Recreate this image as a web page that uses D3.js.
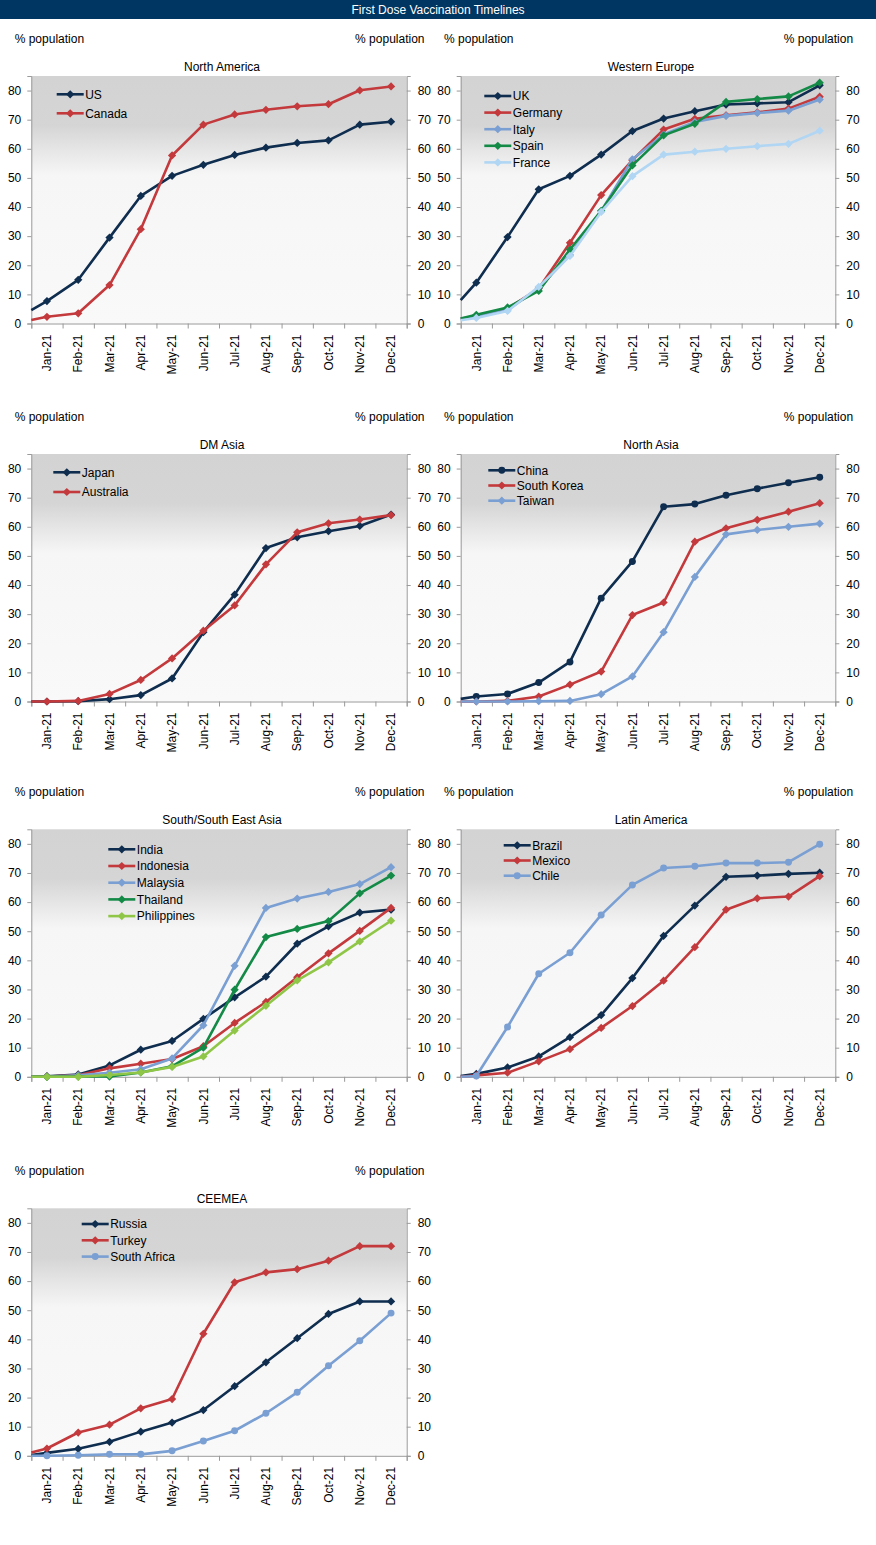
<!DOCTYPE html>
<html><head><meta charset="utf-8">
<script src="https://cdn.jsdelivr.net/npm/d3@7"></script>
<style>
body{margin:0;background:#fff}
text{font-family:"Liberation Sans",Arial,sans-serif;fill:#000}
</style>
</head><body>
<svg id="c" width="876" height="1545"></svg>
<script>
// ---------- DATA ----------
const chartTitle = "First Dose Vaccination Timelines";
const axisLabel = "% population";
const months = ["Jan-21","Feb-21","Mar-21","Apr-21","May-21","Jun-21","Jul-21","Aug-21","Sep-21","Oct-21","Nov-21","Dec-21"];
const yTicks = [0,10,20,30,40,50,60,70,80];
// each series: first value = level at start of the year (left edge), then one value per month
const us        = [4.6, 7.7, 15.0, 29.5, 43.8, 50.7, 54.5, 57.9, 60.4, 62.0, 62.9, 68.3, 69.3];
const canada    = [1.2, 2.3, 3.5, 13.2, 32.4, 57.7, 68.3, 71.8, 73.4, 74.6, 75.3, 80.1, 81.4];
const uk        = [8.0, 14.0, 29.7, 46.1, 50.7, 58.0, 66.1, 70.4, 72.9, 75.2, 75.6, 76.0, 81.8];
const germany   = [1.7, 2.3, 5.1, 12.0, 27.7, 44.1, 56.1, 66.6, 70.3, 71.5, 72.5, 73.8, 77.9];
const italy     = [1.6, 2.3, 4.6, 12.2, 23.5, 38.6, 56.4, 64.9, 69.2, 71.3, 72.3, 73.1, 76.9];
const spain     = [1.7, 3.0, 5.5, 11.2, 25.4, 38.7, 54.3, 64.6, 68.6, 76.1, 77.1, 78.0, 82.7];
const france    = [1.1, 1.9, 4.3, 12.6, 23.2, 38.3, 50.6, 58.0, 59.0, 60.0, 60.9, 61.7, 66.2];
const japan     = [0.0, 0.0, 0.1, 0.8, 2.2, 7.9, 23.8, 36.7, 52.7, 56.4, 58.5, 60.3, 64.2];
const australia = [0.0, 0.0, 0.2, 2.6, 7.4, 14.8, 24.3, 33.0, 47.1, 58.1, 61.2, 62.5, 64.0];
const china     = [0.9, 1.7, 2.6, 6.5, 13.6, 35.5, 48.1, 66.9, 67.8, 70.8, 73.1, 75.1, 77.0];
const southKorea= [0.0, 0.0, 0.2, 1.7, 5.8, 10.3, 29.7, 34.0, 54.9, 59.5, 62.4, 65.2, 68.1];
const taiwan    = [0.0, 0.0, 0.0, 0.1, 0.2, 2.5, 8.6, 23.8, 42.8, 57.4, 58.9, 60.0, 61.1];
const india     = [0.1, 0.2, 0.8, 3.9, 9.3, 12.3, 19.9, 27.3, 34.4, 45.7, 51.7, 56.4, 57.4];
const indonesia = [0.0, 0.1, 0.5, 2.9, 4.5, 6.1, 10.5, 18.5, 25.7, 34.2, 42.4, 50.1, 58.0];
const malaysia  = [0.0, 0.0, 0.5, 1.4, 2.6, 6.3, 17.7, 38.1, 58.0, 61.2, 63.5, 66.2, 72.0];
const thailand  = [0.0, 0.0, 0.1, 0.1, 1.5, 3.6, 10.0, 29.9, 48.0, 50.8, 53.5, 63.0, 69.1];
const philippines=[0.0, 0.0, 0.0, 0.6, 1.5, 3.4, 7.0, 15.9, 24.4, 33.1, 39.3, 46.5, 53.6];
const brazil    = [0.3, 1.0, 3.2, 7.0, 13.6, 21.2, 33.9, 48.4, 58.8, 68.7, 69.1, 69.7, 70.1];
const mexico    = [0.0, 0.5, 1.4, 5.3, 9.5, 16.8, 24.3, 33.0, 44.5, 57.4, 61.3, 61.9, 68.9];
const chile     = [0.0, 0.3, 17.1, 35.4, 42.6, 55.6, 65.9, 71.7, 72.3, 73.4, 73.4, 73.7, 79.9];
const russia    = [0.3, 1.0, 2.4, 4.8, 8.3, 11.4, 15.7, 23.9, 32.1, 40.4, 48.7, 53.0, 53.0];
const turkey    = [1.1, 2.5, 8.0, 10.7, 16.3, 19.5, 41.9, 59.6, 63.0, 64.1, 67.0, 72.0, 72.0];
const southAfrica=[0.0, 0.0, 0.2, 0.5, 0.5, 1.7, 5.1, 8.6, 14.6, 21.8, 30.9, 39.5, 49.0];

const C = {navy:"#0e2d4f", red:"#c3393c", steel:"#7a9fd3", green:"#148a47", pale:"#b0d6f4", lime:"#90c647"};

const panels = [
  {title:"North America", col:0, row:0, leg:[25.4,18.3,19],
   series:[{name:"US",v:us,c:C.navy,m:"d"},{name:"Canada",v:canada,c:C.red,m:"d"}]},
  {title:"Western Europe", col:1, row:0, leg:[23.6,20,16.6],
   series:[{name:"UK",v:uk,c:C.navy,m:"d"},{name:"Germany",v:germany,c:C.red,m:"d"},{name:"Italy",v:italy,c:C.steel,m:"d"},{name:"Spain",v:spain,c:C.green,m:"d"},{name:"France",v:france,c:C.pale,m:"d"}]},
  {title:"DM Asia", col:0, row:1, leg:[22,18.3,19.7],
   series:[{name:"Japan",v:japan,c:C.navy,m:"d"},{name:"Australia",v:australia,c:C.red,m:"d"}]},
  {title:"North Asia", col:1, row:1, leg:[27.6,16.3,15.2],
   series:[{name:"China",v:china,c:C.navy,m:"o"},{name:"South Korea",v:southKorea,c:C.red,m:"d"},{name:"Taiwan",v:taiwan,c:C.steel,m:"d"}]},
  {title:"South/South East Asia", col:0, row:2, leg:[77,20,16.7],
   series:[{name:"India",v:india,c:C.navy,m:"d"},{name:"Indonesia",v:indonesia,c:C.red,m:"d"},{name:"Malaysia",v:malaysia,c:C.steel,m:"d"},{name:"Thailand",v:thailand,c:C.green,m:"d"},{name:"Philippines",v:philippines,c:C.lime,m:"d"}]},
  {title:"Latin America", col:1, row:2, leg:[43,16,15.2],
   series:[{name:"Brazil",v:brazil,c:C.navy,m:"d"},{name:"Mexico",v:mexico,c:C.red,m:"d"},{name:"Chile",v:chile,c:C.steel,m:"o"}]},
  {title:"CEEMEA", col:0, row:3, leg:[50.4,15.7,16.3],
   series:[{name:"Russia",v:russia,c:C.navy,m:"d"},{name:"Turkey",v:turkey,c:C.red,m:"d"},{name:"South Africa",v:southAfrica,c:C.steel,m:"o"}]}
];

// ---------- LAYOUT ----------
const colX = [[31.3,406.7],[460.7,835.3]];
const rowTop = [76, 454, 829.3, 1208.3];
const plotH = 247.5;

const svg = d3.select("#c");
const defs = svg.append("defs");
const grad = defs.append("linearGradient").attr("id","bg").attr("x1",0).attr("y1",0).attr("x2",0).attr("y2",1);
[[0,"#d3d3d3"],[0.2,"#d5d5d5"],[0.3,"#e6e6e6"],[0.4,"#f6f6f6"],[1,"#f9f9f9"]].forEach(s=>
  grad.append("stop").attr("offset",s[0]).attr("stop-color",s[1]));

// header
svg.append("rect").attr("x",0).attr("y",0).attr("width",876).attr("height",19).attr("fill","#003662");
svg.append("text").attr("x",438).attr("y",14).attr("text-anchor","middle").style("fill","#fff")
  .attr("font-size",12).text(chartTitle);

const diamond = d3.symbol(d3.symbolSquare, 34)();
const circle = d3.symbol(d3.symbolCircle, 38)();

function marker(g, m, color, x, y){
  const p = g.append("path").attr("d", m==="o"?circle:diamond).attr("fill",color);
  p.attr("transform", `translate(${x},${y})` + (m==="o"?"":" rotate(45)"));
}

panels.forEach(p=>{
  const [x0,x1] = colX[p.col];
  const top = rowTop[p.row], bottom = top + plotH;
  const g = svg.append("g");
  const y = d3.scaleLinear().domain([0,85]).range([bottom, top]);
  const xb = d3.scaleBand().domain(months).range([x0,x1]);
  const xl = d3.scaleLinear().domain([0,months.length]).range([x0,x1]);

  g.append("rect").attr("x",x0).attr("y",top).attr("width",x1-x0).attr("height",plotH).attr("fill","url(#bg)");

  // labels
  g.append("text").attr("x",x0-16.6).attr("y",top-33).attr("font-size",12).text(axisLabel);
  g.append("text").attr("x",x1+17.8).attr("y",top-33).attr("font-size",12).attr("text-anchor","end").text(axisLabel);
  g.append("text").attr("x",(x0+x1)/2+3).attr("y",top-5.3).attr("font-size",12).attr("text-anchor","middle").text(p.title);

  // y axes
  const ya = g.append("g").attr("transform",`translate(${x0},0)`)
    .call(d3.axisLeft(y).tickValues(yTicks).tickSize(4).tickPadding(6));
  const yb = g.append("g").attr("transform",`translate(${x1},0)`)
    .call(d3.axisRight(y).tickValues(yTicks).tickSize(4).tickPadding(7));
  // x axis boundary ticks
  const xa = g.append("g").attr("transform",`translate(0,${bottom})`)
    .call(d3.axisBottom(xl).ticks(months.length).tickFormat("").tickSize(5).tickSizeOuter(5));
  // x labels
  const xlab = g.append("g").attr("transform",`translate(0,${bottom})`)
    .call(d3.axisBottom(xb).tickSize(0).tickPadding(0));
  xlab.select(".domain").remove();
  xlab.selectAll("text").attr("transform","rotate(-90)").attr("text-anchor","end")
    .attr("x",-11).attr("y",0).attr("dy","0.35em");
  [ya,yb,xa,xlab].forEach(a=>{
    a.selectAll(".domain").attr("stroke","#9a9a9a");
    a.selectAll("line").attr("stroke","#9a9a9a");
    a.selectAll("text").attr("font-size",12).attr("font-family","Liberation Sans, Arial, sans-serif").style("fill","#000");
  });

  const pts = v => v.map((d,i)=> i===0 ? [x0, y(d)] : [xb(months[i-1]) + xb.bandwidth()/2, y(d)]);
  const line = d3.line();
  p.series.forEach(s=>{
    const P = pts(s.v);
    g.append("path").attr("d",line(P)).attr("fill","none").attr("stroke",s.c).attr("stroke-width",2.6).attr("stroke-linejoin","round");
    P.slice(1).forEach(q=>marker(g,s.m,s.c,q[0],q[1]));
  });

  // legend
  const [lx,ly,ldy] = p.leg;
  p.series.forEach((s,i)=>{
    const yy = top + ly + i*ldy, xx = x0 + lx;
    g.append("line").attr("x1",xx).attr("x2",xx+27).attr("y1",yy).attr("y2",yy).attr("stroke",s.c).attr("stroke-width",2.6);
    marker(g,s.m,s.c,xx+13.5,yy);
    g.append("text").attr("x",xx+28.5).attr("y",yy+4.3).attr("font-size",12).text(s.name);
  });
});
</script>
</body></html>
